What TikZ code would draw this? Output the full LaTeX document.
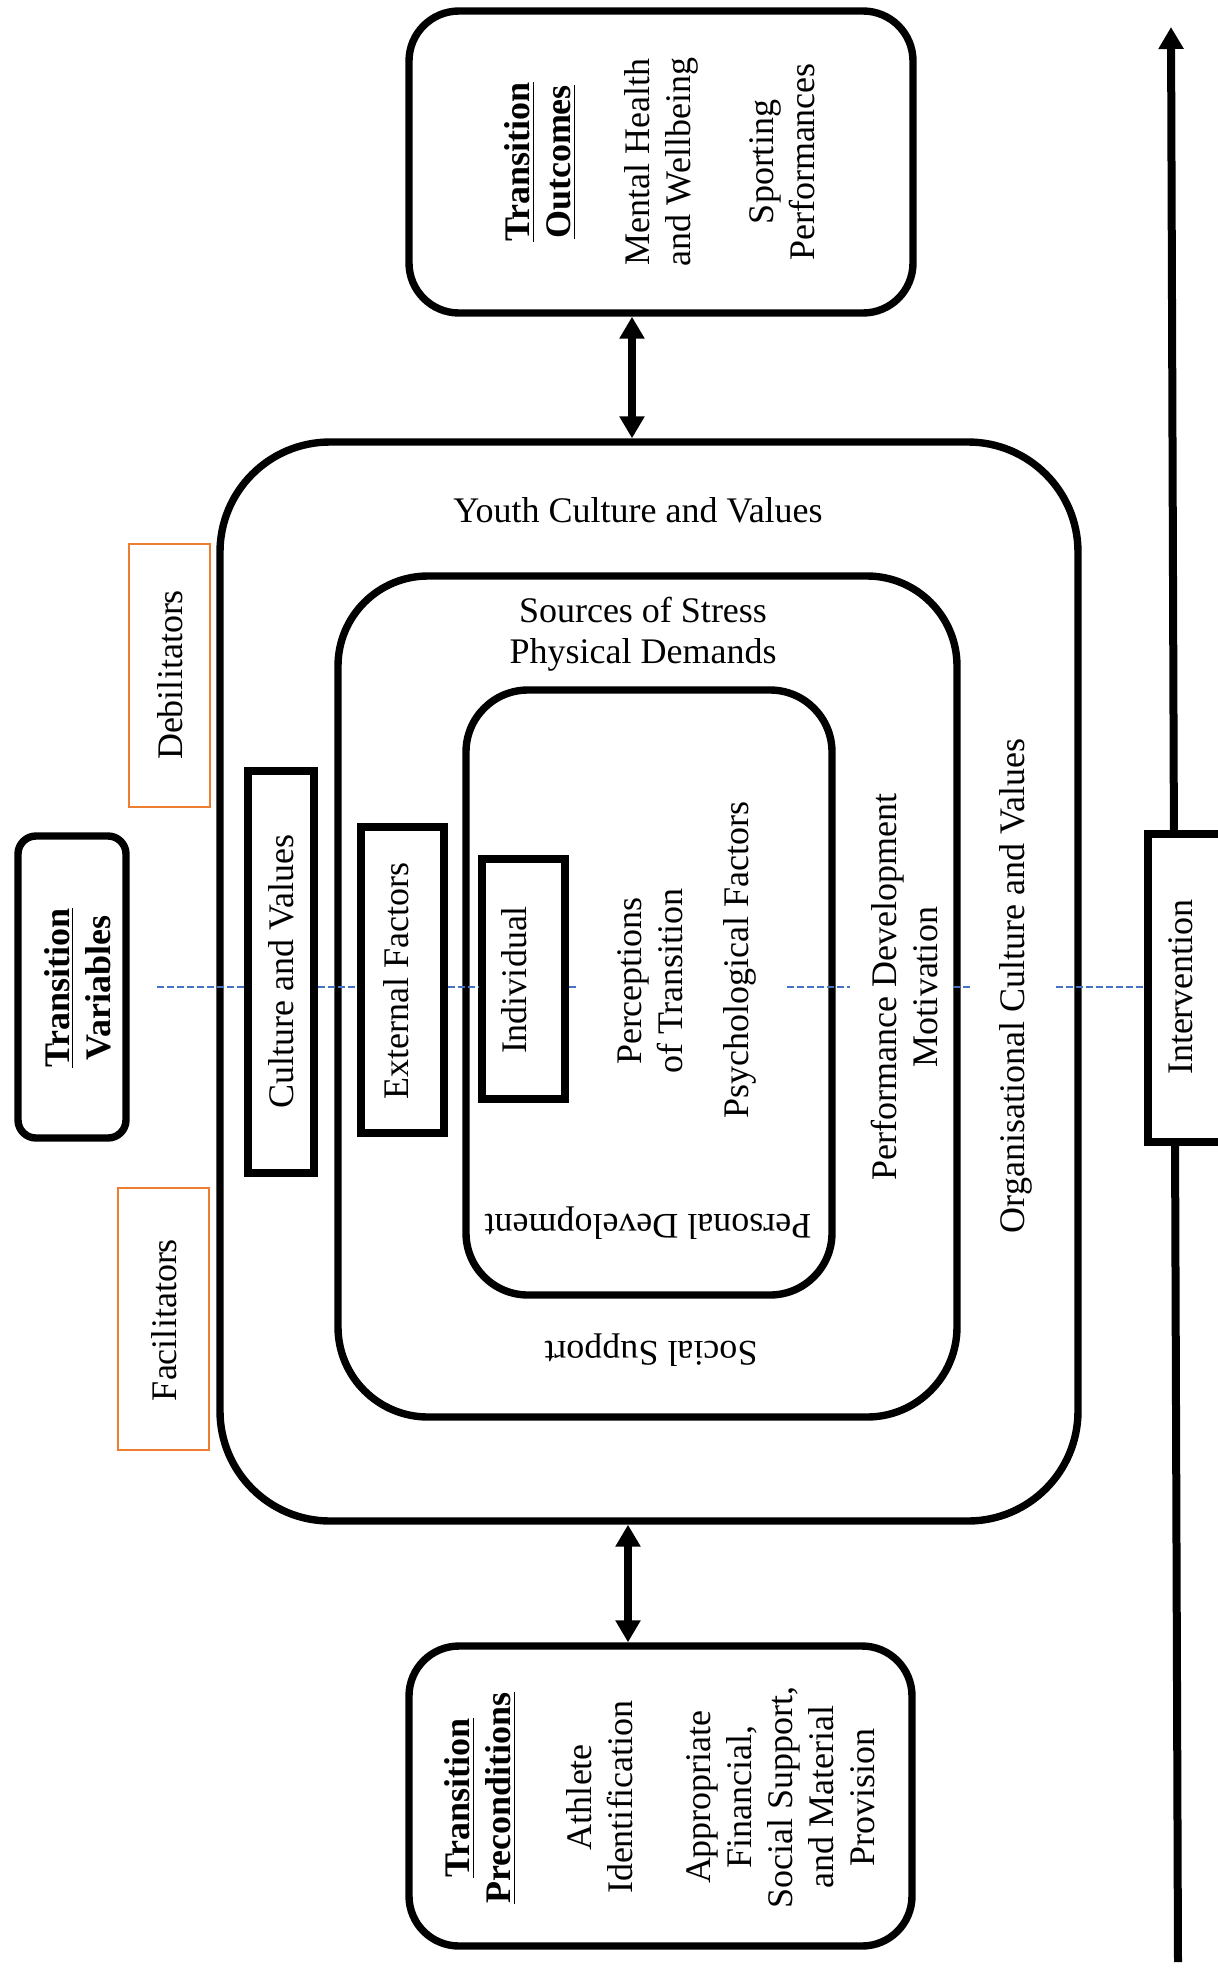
\documentclass[tikz,border=0pt]{standalone}
\usepackage{fontspec}
\setmainfont{Liberation Serif}
\usetikzlibrary{arrows.meta,fit}
\definecolor{orangeframe}{RGB}{237,125,49}
\definecolor{bluedash}{RGB}{68,114,196}
\begin{document}
\begin{tikzpicture}[x=0.5pt,y=-0.5pt,
  every node/.style={font=\fontsize{18}{20.5}\selectfont, inner sep=0pt, align=center},
  frame/.style={draw, line width=3.7pt, inner sep=0pt},
  thinframe/.style={draw=orangeframe, line width=1pt, inner sep=0pt},
  vtext/.style={rotate=90},
  flip/.style={rotate=180},
  dl/.style={draw=bluedash, line width=1pt, dash pattern=on 3.5pt off 1.5pt},
  biarrow/.style={line width=4pt, {Triangle[width=12pt,length=11pt]}-{Triangle[width=12pt,length=11pt]}},
  uparrow/.style={line width=4pt, -{Triangle[width=12pt,length=11pt]}}
]
\useasboundingbox (0,0) rectangle (1218,1970);

% containers
\node[frame, rounded corners=55pt, fit={(220,442) (1078,1521)}] (outer) {};
\node[frame, rounded corners=45pt, fit={(338,576) (957,1417)}] (middle) {};
\node[frame, rounded corners=31pt, fit={(466,690) (832,1295)}] (inner) {};
\node[frame, rounded corners=25pt, fit={(409,11) (913,313)}] (outcomes) {};
\node[frame, rounded corners=25pt, fit={(409,1646) (912,1946)}] (precond) {};
\node[frame, rounded corners=9pt, fit={(18,836) (126,1138)}] (variables) {};
\node[frame, fit={(248,771) (314,1173)}] (culture) {};
\node[frame, fit={(361,827) (444,1133)}] (external) {};
\node[frame, fit={(482,859) (565,1099)}] (individual) {};
\node[thinframe, fit={(129,544) (210,807)}] (debil) {};
\node[thinframe, fit={(118,1188) (209,1450)}] (facil) {};

% vertical intervention arrow
\coordinate (vb) at (1178,1962);
\coordinate (vt) at (1171,27);
\draw[uparrow] (vb) -- (vt);
\node[frame, fill=white, fit={(1148,834) (1240,1142)}] (interv) {};

% dashed guide line
\coordinate (d0) at (157,987);
\coordinate (d1) at (578,987);
\coordinate (d2) at (787,987);
\coordinate (d3) at (850,987);
\coordinate (d4) at (953,987);
\coordinate (d5) at (970,987);
\coordinate (d6) at (1056,987);
\draw[dl] (d0) -- (culture.west |- d0);
\draw[dl] (culture.east |- d0) -- (external.west |- d0);
\draw[dl] (external.east |- d0) -- (individual.west |- d0);
\draw[dl] (individual.east |- d0) -- (d1);
\draw[dl] (d2) -- (d3);
\draw[dl] (d4) -- (d5);
\draw[dl] (d6) -- (interv.west |- d0);

% connectors
\coordinate (ta) at (632,0);
\draw[biarrow] (ta |- outcomes.south) -- (ta |- outer.north);
\coordinate (ba) at (628,0);
\draw[biarrow] (ba |- outer.south) -- (ba |- precond.north);

% texts
\node[vtext] (outT) at (540,162) {\textbf{\underline{Transition}}\\\textbf{\underline{Outcomes}}};
\node[vtext] (outM) at (661,162) {Mental Health\\and Wellbeing};
\node[vtext] (outS) at (782,162) {Sporting\\Performances};

\node[vtext] (preT) at (480,1798) {\textbf{\underline{Transition}}\\\textbf{\underline{Preconditions}}};
\node[vtext] (preA) at (600,1797) {Athlete\\Identification};
\node[vtext] (preF) at (781,1797) {Appropriate\\Financial,\\Social Support,\\and Material\\Provision};

\node[vtext] (varT) at (78,988) {\textbf{\underline{Transition}}\\\textbf{Variables}};
\node[vtext] (debT) at (170,675) {Debilitators};
\node[vtext] (facT) at (164,1320) {Facilitators};

\node (youth) at (638,510) {Youth Culture and Values};
\node (sources) at (643,634) {Sources of Stress\\Physical Demands};
\node[vtext] (cultT) at (281,972) {Culture and Values};
\node[vtext] (extT) at (396,981) {External Factors};
\node[vtext] (indT) at (514,980) {Individual};
\node[vtext] (percT) at (650,981) {Perceptions\\of Transition};
\node[vtext] (psyT) at (740,960) {Psychological Factors};
\node[flip] (persT) at (648,1223) {Personal Development};
\node[flip] (socT) at (651,1350) {Social Support};
\node[vtext] (perfT) at (904,987) {Performance Development\\Motivation};
\node[vtext] (orgT) at (1016,986) {Organisational Culture and Values};
\node[vtext] (intT) at (1181,987) {Intervention};
\end{tikzpicture}
\end{document}
